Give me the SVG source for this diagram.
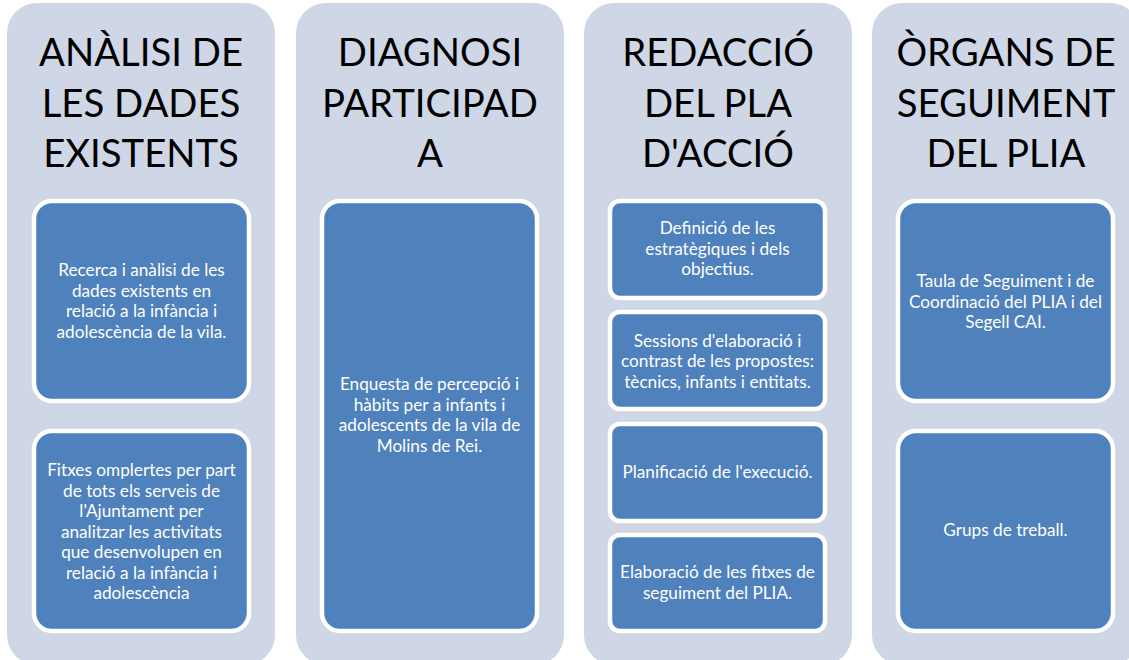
<svg xmlns="http://www.w3.org/2000/svg" width="1129" height="660" viewBox="0 0 1129 660">
<style>
.col{fill:#cfd6e6;}
.box{fill:#4f81bd;stroke:#ffffff;stroke-width:4.5;}
.title{font-family:Lato,"Liberation Sans",Arial,sans-serif;font-size:38.3px;fill:#000;text-anchor:middle;}
.txt{font-family:Lato,"Liberation Sans",Arial,sans-serif;font-size:17.2px;fill:#fff;text-anchor:middle;}
</style>
<rect width="1129" height="660" fill="#ffffff"/>
<g id="col1">
<rect class="col" x="7" y="3" width="268" height="662" rx="30"/>
<text class="title"><tspan x="141" y="66">ANÀLISI DE</tspan><tspan x="141" y="116.5">LES DADES</tspan><tspan x="141" y="167">EXISTENTS</tspan></text>
</g>
<g id="col2">
<rect class="col" x="296" y="3" width="268" height="662" rx="30"/>
<text class="title"><tspan x="430" y="66">DIAGNOSI</tspan><tspan x="430" y="116.5">PARTICIPAD</tspan><tspan x="430" y="167">A</tspan></text>
</g>
<g id="col3">
<rect class="col" x="584" y="3" width="268" height="662" rx="30"/>
<text class="title"><tspan x="718" y="66">REDACCIÓ</tspan><tspan x="718" y="116.5">DEL PLA</tspan><tspan x="718" y="167">D'ACCIÓ</tspan></text>
</g>
<g id="col4">
<rect class="col" x="872" y="3" width="268" height="662" rx="30"/>
<text class="title"><tspan x="1006" y="66">ÒRGANS DE</tspan><tspan x="1006" y="116.5">SEGUIMENT</tspan><tspan x="1006" y="167">DEL PLIA</tspan></text>
</g>
<g id="n1a">
<rect class="box" x="34" y="201" width="215" height="200" rx="18"/>
<text class="txt"><tspan x="141.5" y="276">Recerca i anàlisi de les</tspan><tspan x="141.5" y="296.5">dades existents en</tspan><tspan x="141.5" y="317">relació a la infància i</tspan><tspan x="141.5" y="337.5">adolescència de la vila.</tspan></text>
</g>
<g id="n1b">
<rect class="box" x="34" y="431" width="215" height="200" rx="18"/>
<text class="txt"><tspan x="141.5" y="476">Fitxes omplertes per part</tspan><tspan x="141.5" y="496.5">de tots els serveis de</tspan><tspan x="141.5" y="517">l'Ajuntament per</tspan><tspan x="141.5" y="537.5">analitzar les activitats</tspan><tspan x="141.5" y="558">que desenvolupen en</tspan><tspan x="141.5" y="578.5">relació a la infància i</tspan><tspan x="141.5" y="599">adolescència</tspan></text>
</g>
<g id="n2a">
<rect class="box" x="322" y="201" width="215" height="430" rx="18"/>
<text class="txt"><tspan x="429.5" y="390">Enquesta de percepció i</tspan><tspan x="429.5" y="410.5">hàbits per a infants i</tspan><tspan x="429.5" y="431">adolescents de la vila de</tspan><tspan x="429.5" y="451.5">Molins de Rei.</tspan></text>
</g>
<g id="n3a">
<rect class="box" x="610" y="201" width="215" height="97" rx="10"/>
<text class="txt"><tspan x="717.5" y="234">Definició de les</tspan><tspan x="717.5" y="254.5">estratègiques i dels</tspan><tspan x="717.5" y="275">objectius.</tspan></text>
</g>
<g id="n3b">
<rect class="box" x="610" y="312" width="215" height="97" rx="10"/>
<text class="txt"><tspan x="717.5" y="347">Sessions d'elaboració i</tspan><tspan x="717.5" y="367">contrast de les propostes:</tspan><tspan x="717.5" y="387.5">tècnics, infants i entitats.</tspan></text>
</g>
<g id="n3c">
<rect class="box" x="610" y="424" width="215" height="97" rx="10"/>
<text class="txt"><tspan x="717.5" y="478">Planificació de l'execució.</tspan></text>
</g>
<g id="n3d">
<rect class="box" x="610" y="535" width="215" height="96" rx="10"/>
<text class="txt"><tspan x="717.5" y="578">Elaboració de les fitxes de</tspan><tspan x="717.5" y="598.5">seguiment del PLIA.</tspan></text>
</g>
<g id="n4a">
<rect class="box" x="898" y="201" width="215" height="200" rx="18"/>
<text class="txt"><tspan x="1005.5" y="287">Taula de Seguiment i de</tspan><tspan x="1005.5" y="307.5">Coordinació del PLIA i del</tspan><tspan x="1005.5" y="328">Segell CAI.</tspan></text>
</g>
<g id="n4b">
<rect class="box" x="898" y="431" width="215" height="200" rx="18"/>
<text class="txt"><tspan x="1005.5" y="536">Grups de treball.</tspan></text>
</g>
<g id="connectors"></g>
</svg>
